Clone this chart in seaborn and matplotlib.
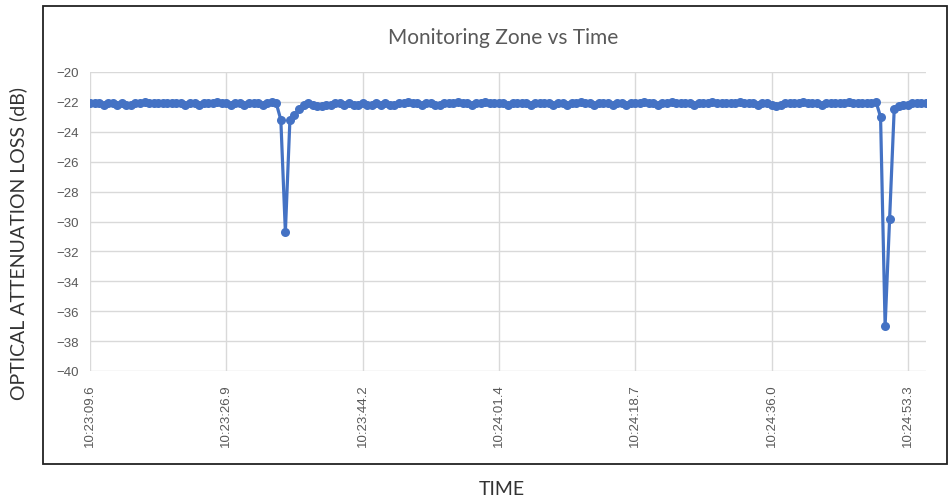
import numpy as np
import pandas as pd
import seaborn as sns
import matplotlib.pyplot as plt
from matplotlib.patches import Rectangle

# optical loss readings (dB), one per sample
loss = [
    -22.1, -22.1, -22.1, -22.2, -22.1, -22.1, -22.2, -22.1, -22.2, -22.2,
    -22.1, -22.1, -22.0, -22.1, -22.1, -22.1, -22.1, -22.1, -22.1, -22.1,
    -22.1, -22.2, -22.1, -22.1, -22.2, -22.1, -22.1, -22.1, -22.0, -22.1,
    -22.1, -22.2, -22.1, -22.1, -22.2, -22.1, -22.1, -22.1, -22.2, -22.1,
    -22.0, -22.1, -23.2, -30.7, -23.2, -22.9, -22.5, -22.2, -22.1, -22.2,
    -22.3, -22.3, -22.2, -22.2, -22.1, -22.1, -22.2, -22.1, -22.2, -22.2,
    -22.1, -22.2, -22.2, -22.1, -22.2, -22.1, -22.2, -22.2, -22.1, -22.1,
    -22.0, -22.1, -22.1, -22.2, -22.1, -22.1, -22.2, -22.2, -22.1, -22.1,
    -22.1, -22.0, -22.1, -22.1, -22.2, -22.1, -22.1, -22.0, -22.1, -22.1,
    -22.1, -22.1, -22.2, -22.1, -22.1, -22.1, -22.1, -22.2, -22.1, -22.1,
    -22.1, -22.1, -22.2, -22.1, -22.1, -22.2, -22.1, -22.1, -22.0, -22.1,
    -22.1, -22.2, -22.1, -22.1, -22.1, -22.2, -22.1, -22.1, -22.2, -22.1,
    -22.1, -22.1, -22.0, -22.1, -22.1, -22.2, -22.1, -22.1, -22.0, -22.1,
    -22.1, -22.1, -22.1, -22.2, -22.1, -22.1, -22.1, -22.0, -22.1, -22.1,
    -22.1, -22.1, -22.1, -22.0, -22.1, -22.1, -22.1, -22.2, -22.1, -22.1,
    -22.2, -22.3, -22.2, -22.1, -22.1, -22.1, -22.1, -22.0, -22.1, -22.1,
    -22.1, -22.2, -22.1, -22.1, -22.1, -22.1, -22.1, -22.0, -22.1, -22.1,
    -22.1, -22.1, -22.1, -22.0, -23.0, -37.0, -29.8, -22.5, -22.3, -22.2,
    -22.2, -22.1, -22.1, -22.1, -22.1,
]
time_labels = ["10:23:09.6", "10:23:26.9", "10:23:44.2", "10:24:01.4",
               "10:24:18.7", "10:24:36.0", "10:24:53.3"]

df = pd.DataFrame({"sample": np.arange(len(loss)), "loss": loss})

sns.set_style("white")
plt.rcParams["font.family"] = ["Liberation Sans", "DejaVu Sans"]

fig = plt.figure(figsize=(9.51, 5.02), dpi=100)
W, H = 951, 502
ax = fig.add_axes([90 / W, (H - 372) / H, (926 - 90) / W, 299 / H])

sns.lineplot(data=df, x="sample", y="loss", ax=ax, color="#4472C4",
             linewidth=2.3, marker="o", markersize=6.5, markeredgewidth=0)

ax.set_ylim(-40, -20)
ax.set_yticks(np.arange(-40, -19, 2))
ax.set_xlim(0, len(loss) - 1)
ax.set_xticks(np.arange(0, len(loss), 30))
ax.set_xticklabels(time_labels, rotation=90)
ax.grid(True, color="#d9d9d9", linewidth=1)
ax.set_axisbelow(True)
for s in ax.spines.values():
    s.set_visible(False)
ax.tick_params(axis="both", length=0, labelsize=9.5, labelcolor="#595959")
ax.tick_params(axis="y", pad=8)
ax.tick_params(axis="x", pad=9)
ax.set_xlabel("")
ax.set_ylabel("")

# chart area border
fig.patches.append(Rectangle((43 / W, (H - 465) / H), (947 - 43) / W, (465 - 7) / H,
                             transform=fig.transFigure, fill=False,
                             edgecolor="#222222", linewidth=1.3))

fig.text(503 / W, 1 - 38 / H, "Monitoring Zone vs Time", ha="center", va="center",
         fontsize=15, color="#595959", family=["Lato", "DejaVu Sans"])
fig.text(18 / W, 1 - 243 / H, "OPTICAL ATTENUATION LOSS (dB)", rotation=90,
         ha="center", va="center", fontsize=14, color="#333333",
         family=["Lato", "DejaVu Sans"])
fig.text(502 / W, 1 - 490 / H, "TIME", ha="center", va="center",
         fontsize=14, color="#333333", family=["Lato", "DejaVu Sans"])

fig.savefig("out.png", dpi=100)
